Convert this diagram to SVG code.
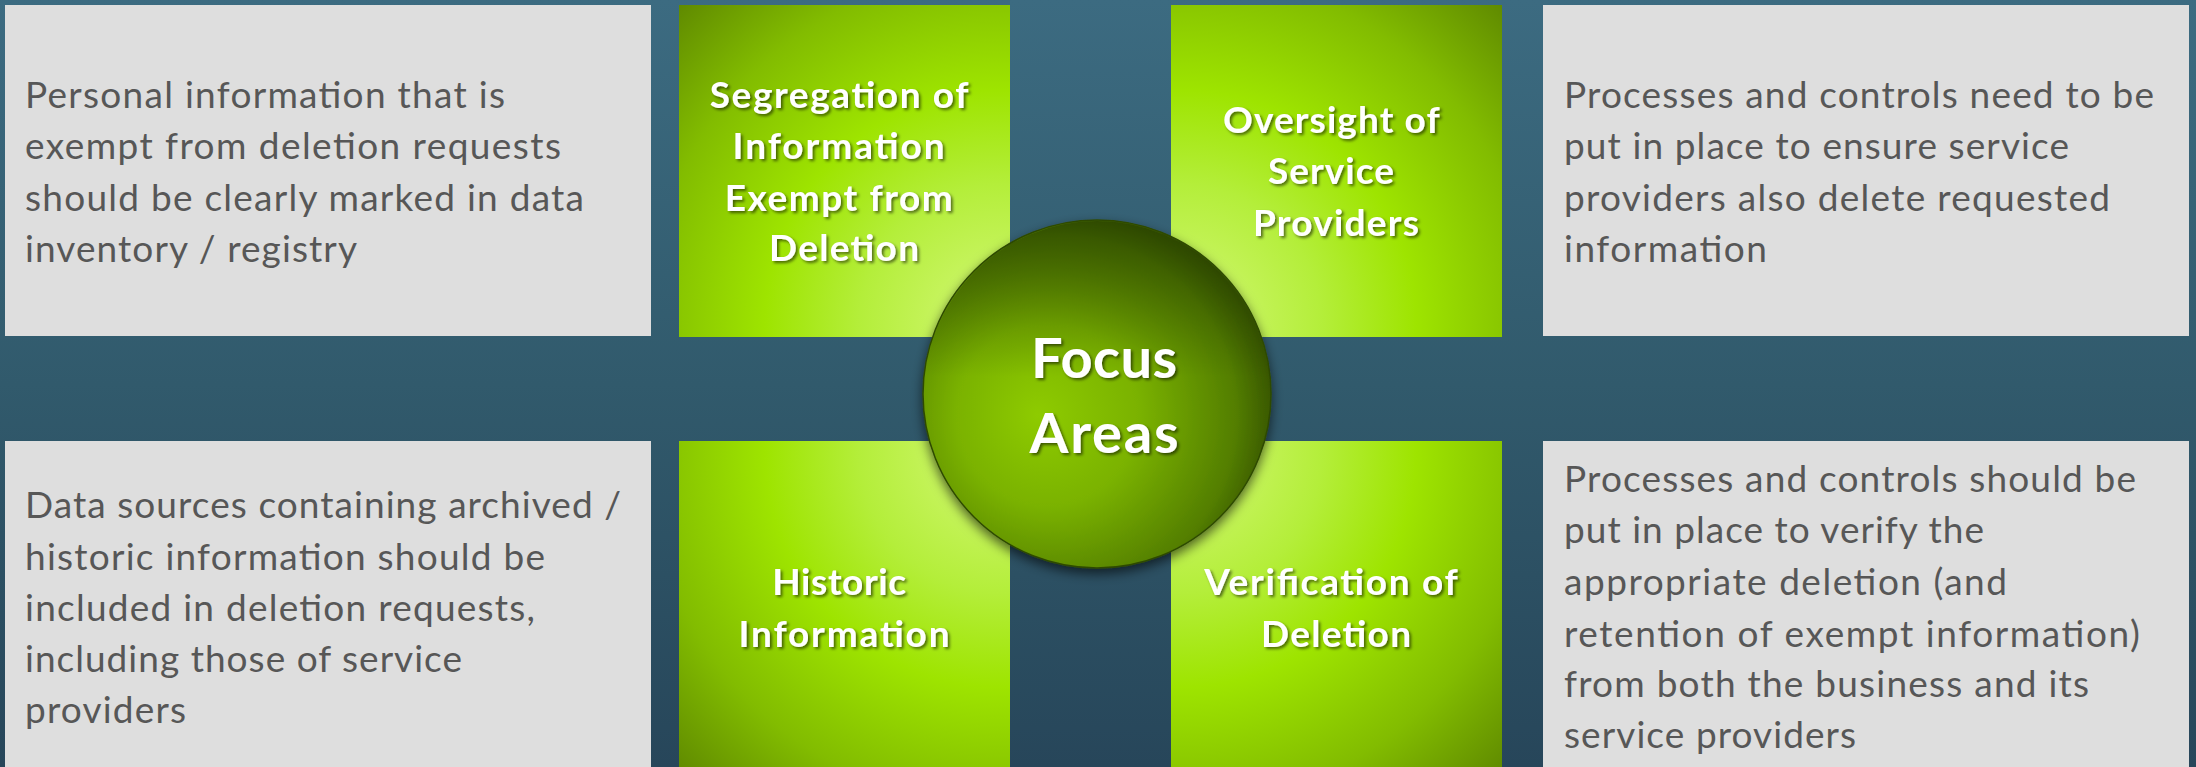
<svg xmlns="http://www.w3.org/2000/svg" width="2196" height="767" viewBox="0 0 2196 767">
  <defs>
    <linearGradient id="bg" x1="0" y1="0" x2="0" y2="1">
      <stop offset="0" stop-color="#3c6b81"/>
      <stop offset="0.5" stop-color="#315a6c"/>
      <stop offset="1" stop-color="#27465a"/>
    </linearGradient>
    <radialGradient id="gTL" gradientUnits="userSpaceOnUse" cx="1000" cy="325" r="470">
      <stop offset="0" stop-color="#d4f878"/>
      <stop offset="0.3" stop-color="#b4ee3a"/>
      <stop offset="0.5" stop-color="#9ee400"/>
      <stop offset="0.75" stop-color="#82bc00"/>
      <stop offset="1" stop-color="#5a8200"/>
    </radialGradient>
    <radialGradient id="gTR" gradientUnits="userSpaceOnUse" cx="1181" cy="325" r="470">
      <stop offset="0" stop-color="#d4f878"/>
      <stop offset="0.3" stop-color="#b4ee3a"/>
      <stop offset="0.5" stop-color="#9ee400"/>
      <stop offset="0.75" stop-color="#82bc00"/>
      <stop offset="1" stop-color="#5a8200"/>
    </radialGradient>
    <radialGradient id="gBL" gradientUnits="userSpaceOnUse" cx="1000" cy="452" r="470">
      <stop offset="0" stop-color="#d4f878"/>
      <stop offset="0.3" stop-color="#b4ee3a"/>
      <stop offset="0.5" stop-color="#9ee400"/>
      <stop offset="0.75" stop-color="#82bc00"/>
      <stop offset="1" stop-color="#5a8200"/>
    </radialGradient>
    <radialGradient id="gBR" gradientUnits="userSpaceOnUse" cx="1181" cy="452" r="470">
      <stop offset="0" stop-color="#d4f878"/>
      <stop offset="0.3" stop-color="#b4ee3a"/>
      <stop offset="0.5" stop-color="#9ee400"/>
      <stop offset="0.75" stop-color="#82bc00"/>
      <stop offset="1" stop-color="#5a8200"/>
    </radialGradient>
    <!-- sphere shading: lit from the lower left, dark rim toward the upper right -->
    <radialGradient id="hub" cx="0.4" cy="0.56" r="0.66" fx="0.33" fy="0.56">
      <stop offset="0" stop-color="#8ecb00"/>
      <stop offset="0.4" stop-color="#7ab200"/>
      <stop offset="0.78" stop-color="#537e00"/>
      <stop offset="1" stop-color="#2b4300"/>
    </radialGradient>
    <linearGradient id="hubTop" x1="0" y1="0" x2="0" y2="1">
      <stop offset="0" stop-color="#1e3200" stop-opacity="0.55"/>
      <stop offset="0.45" stop-color="#1e3200" stop-opacity="0"/>
      <stop offset="1" stop-color="#1e3200" stop-opacity="0"/>
    </linearGradient>
    <filter id="hubShadow" x="-20%" y="-20%" width="140%" height="150%">
      <feDropShadow dx="0" dy="5" stdDeviation="6" flood-color="#000" flood-opacity="0.6"/>
    </filter>
    <filter id="txtShadow" x="-10%" y="-20%" width="120%" height="160%">
      <feDropShadow dx="2" dy="2" stdDeviation="1.5" flood-color="#000" flood-opacity="0.55"/>
    </filter>
  </defs>
  <style>
    .panel { fill: #dedede; }
    .body { font-family: "Lato", "Liberation Sans", sans-serif; font-size: 37px; fill: #575757; }
    .head { font-family: "Lato", "Liberation Sans", sans-serif; font-weight: bold; font-size: 37px; fill: #ffffff; text-anchor: middle; filter: url(#txtShadow); }
    .hubtxt { font-family: "Lato", "Liberation Sans", sans-serif; font-weight: bold; font-size: 56px; fill: #ffffff; text-anchor: middle; filter: url(#txtShadow); }
  </style>

  <rect x="0" y="0" width="2196" height="767" fill="url(#bg)"/>

  <!-- description panels -->
  <g id="desc-top-left">
    <rect class="panel" x="5" y="5" width="646" height="331"/>
    <text class="body">
      <tspan x="25" y="108" textLength="480">Personal information that is</tspan>
      <tspan x="25" y="159" textLength="536">exempt from deletion requests</tspan>
      <tspan x="25" y="211" textLength="559">should be clearly marked in data</tspan>
      <tspan x="25" y="262" textLength="332">inventory / registry</tspan>
    </text>
  </g>
  <g id="desc-top-right">
    <rect class="panel" x="1543" y="5" width="646" height="331"/>
    <text class="body">
      <tspan x="1564" y="108" textLength="590">Processes and controls need to be</tspan>
      <tspan x="1564" y="159" textLength="505">put in place to ensure service</tspan>
      <tspan x="1564" y="211" textLength="546">providers also delete requested</tspan>
      <tspan x="1564" y="262" textLength="203">information</tspan>
    </text>
  </g>
  <g id="desc-bottom-left">
    <rect class="panel" x="5" y="441" width="646" height="326"/>
    <text class="body">
      <tspan x="25" y="518" textLength="596">Data sources containing archived /</tspan>
      <tspan x="25" y="570" textLength="520">historic information should be</tspan>
      <tspan x="25" y="621" textLength="510">included in deletion requests,</tspan>
      <tspan x="25" y="672" textLength="437">including those of service</tspan>
      <tspan x="25" y="723" textLength="161">providers</tspan>
    </text>
  </g>
  <g id="desc-bottom-right">
    <rect class="panel" x="1543" y="441" width="646" height="326"/>
    <text class="body">
      <tspan x="1564" y="492" textLength="572">Processes and controls should be</tspan>
      <tspan x="1564" y="543" textLength="420">put in place to verify the</tspan>
      <tspan x="1564" y="595" textLength="443">appropriate deletion (and</tspan>
      <tspan x="1564" y="647" textLength="576">retention of exempt information)</tspan>
      <tspan x="1564" y="697" textLength="525">from both the business and its</tspan>
      <tspan x="1564" y="748" textLength="292">service providers</tspan>
    </text>
  </g>

  <!-- focus area tiles -->
  <g id="area-segregation">
    <rect x="679" y="5" width="331" height="332" fill="url(#gTL)"/>
  </g>
  <g id="area-oversight">
    <rect x="1171" y="5" width="331" height="332" fill="url(#gTR)"/>
  </g>
  <g id="area-historic">
    <rect x="679" y="441" width="331" height="326" fill="url(#gBL)"/>
  </g>
  <g id="area-verification">
    <rect x="1171" y="441" width="331" height="326" fill="url(#gBR)"/>
  </g>

  <!-- central hub -->
  <g id="hub-focus-areas">
    <circle cx="1097" cy="394" r="174" fill="url(#hub)" stroke="#2e4a00" stroke-width="1.5" filter="url(#hubShadow)"/>
    <circle cx="1097" cy="394" r="173" fill="url(#hubTop)"/>
    <text class="hubtxt" x="1104" y="378" textLength="146">Focus</text>
    <text class="hubtxt" x="1104" y="453" textLength="149">Areas</text>
  </g>

  <!-- tile labels -->
  <g id="labels">
    <text class="head">
      <tspan x="844" y="108" textLength="258">Segregation of</tspan>
      <tspan x="844" y="159" textLength="212">Information</tspan>
      <tspan x="844" y="211" textLength="228">Exempt from</tspan>
      <tspan x="844" y="261" textLength="150">Deletion</tspan>
    </text>
    <text class="head">
      <tspan x="1336" y="133" textLength="216">Oversight of</tspan>
      <tspan x="1336" y="184" textLength="126">Service</tspan>
      <tspan x="1336" y="236" textLength="166">Providers</tspan>
    </text>
    <text class="head">
      <tspan x="844" y="595" textLength="134">Historic</tspan>
      <tspan x="844" y="647" textLength="211">Information</tspan>
    </text>
    <text class="head">
      <tspan x="1336" y="595" textLength="253">Verification of</tspan>
      <tspan x="1336" y="647" textLength="150">Deletion</tspan>
    </text>
  </g>
</svg>
